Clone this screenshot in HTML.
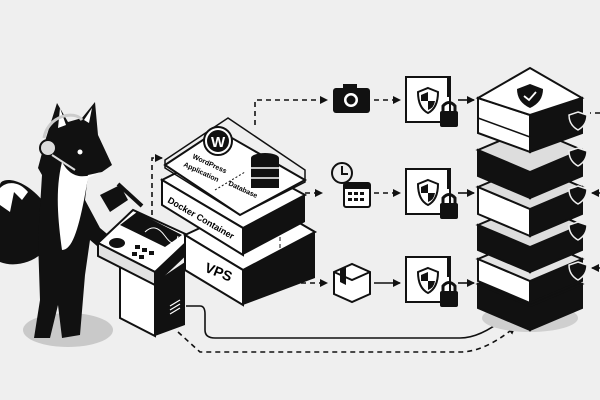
<!DOCTYPE html>
<html><head><meta charset="utf-8"><style>
html,body{margin:0;padding:0;background:#efefef;}
svg{display:block}
text{font-family:"Liberation Sans",sans-serif;font-weight:bold;}
</style></head><body>
<svg width="600" height="400" viewBox="0 0 600 400" xmlns="http://www.w3.org/2000/svg">
<defs>
<marker id="ah" markerWidth="8" markerHeight="8" refX="7" refY="4" orient="auto" markerUnits="userSpaceOnUse"><path d="M0,0 L8,4 L0,8 Z" fill="#111"/></marker>
</defs>
<rect width="600" height="400" fill="#efefef"/>

<g fill="none" stroke="#111" stroke-width="1.6">
<path d="M255,125 V100 H327" stroke-dasharray="5,4" marker-end="url(#ah)"/>
<path d="M374,100 H400" stroke-dasharray="5,4" marker-end="url(#ah)"/>
<path d="M458,100 H474" marker-end="url(#ah)"/>
<path d="M152,215 V158 H162" stroke-dasharray="5,4" marker-end="url(#ah)"/>
<path d="M305,193 H322" stroke-dasharray="5,4" marker-end="url(#ah)"/>
<path d="M374,193 H400" stroke-dasharray="5,4" marker-end="url(#ah)"/>
<path d="M458,193 H474" marker-end="url(#ah)"/>
<path d="M280,250 V283 H327" stroke-dasharray="5,4" marker-end="url(#ah)"/>
<path d="M374,283 H400" marker-end="url(#ah)"/>
<path d="M458,283 H474" marker-end="url(#ah)"/>
<path d="M186,306 H200 Q205,306 205,314 V330 Q205,338 215,338 H460 Q480,338 505,318" marker-end="url(#ah)"/>
<path d="M178,332 L200,352 H460 Q485,352 515,327" stroke-dasharray="5,4" marker-end="url(#ah)"/>
<path d="M600,113 H590" stroke-dasharray="5,4"/>
<path d="M600,193 H592" stroke-dasharray="4,3" marker-end="url(#ah)"/>
<path d="M600,268 H592" stroke-dasharray="4,3" marker-end="url(#ah)"/>
</g>

<ellipse cx="68" cy="330" rx="45" ry="17" fill="#c9c9c9"/>
<path d="M42,200 C20,175 0,178 0,185 V262 C15,268 35,262 45,250 Z" fill="#111"/>
<path d="M0,188 C8,180 20,182 28,192 L22,200 L14,192 L10,212 L0,205 Z" fill="#fff"/>
<path d="M57,103 L68,122 L82,118 L95,102 L98,135 L112,165 L102,172 L88,175 L85,200 L100,228 L112,238 L118,250 L104,252 L90,240 L85,275 L80,335 L62,338 L58,305 L50,338 L34,338 L40,300 L38,240 L42,175 L38,168 L46,138 Z" fill="#111"/>
<path d="M62,162 C72,180 85,178 100,172 L88,178 L84,200 C78,230 72,250 62,250 C58,220 55,190 62,162 Z" fill="#fff"/>
<path d="M60,108 L66,125 L58,128 Z M92,108 L89,123 L84,120 Z" fill="#fff"/>
<path d="M100,195 L120,185 L128,200 L110,212 Z" fill="#111"/>
<line x1="118" y1="184" x2="142" y2="206" stroke="#111" stroke-width="4"/>
<circle cx="48" cy="148" r="8" fill="#ddd" stroke="#111" stroke-width="2"/>
<path d="M44,138 C48,115 75,110 82,120" fill="none" stroke="#ccc" stroke-width="3"/>
<line x1="52" y1="155" x2="75" y2="170" stroke="#ddd" stroke-width="2"/>
<circle cx="80" cy="152" r="2.5" fill="#fff"/>

<polygon points="120,262 155,282 155,336 120,318" fill="#fff" stroke="#111" stroke-width="2"/>
<polygon points="155,282 185,262 185,325 155,336" fill="#111"/>
<polygon points="98,243 133,210 192,237 155,272" fill="#fff" stroke="#111" stroke-width="2"/>
<polygon points="98,243 155,272 155,285 98,256" fill="#e2e2e2" stroke="#111" stroke-width="2"/>
<polygon points="155,272 192,237 192,250 155,285" fill="#111"/>
<polygon points="120,225 137,212 182,235 165,247" fill="#111"/>
<path d="M145,232 Q155,222 165,236 T178,236" stroke="#fff" fill="none" stroke-width="1"/>
<g fill="#111"><rect x="135" y="245" width="5" height="4"/><rect x="142" y="248" width="5" height="4"/><rect x="149" y="251" width="5" height="4"/><rect x="132" y="252" width="5" height="4"/><rect x="139" y="255" width="5" height="4"/></g>
<ellipse cx="117" cy="243" rx="8" ry="5" fill="#111"/>
<g stroke="#fff" stroke-width="1.2"><line x1="170" y1="306" x2="180" y2="300"/><line x1="170" y1="310" x2="180" y2="304"/><line x1="170" y1="314" x2="180" y2="308"/></g>

<polygon points="185,235 260,200 315,232 243,270" fill="#fff" stroke="#111" stroke-width="2"/>
<polygon points="185,235 243,270 243,305 185,270" fill="#fff" stroke="#111" stroke-width="2"/>
<polygon points="243,270 315,232 315,278 243,305" fill="#111"/>
<text x="205" y="275" font-size="14" transform="rotate(22 214 270)">VPS</text>
<polygon points="162,180 222,150 305,195 243,228" fill="#fff" stroke="#111" stroke-width="2"/>
<polygon points="162,180 243,228 243,255 162,205" fill="#fff" stroke="#111" stroke-width="2"/>
<polygon points="243,228 305,195 305,222 243,255" fill="#111"/>
<text x="167" y="202" font-size="9" transform="rotate(30 167 202)">Docker Container</text>
<polygon points="228,118 305,170 305,182 240,215 165,168 165,160" fill="none" stroke="#111" stroke-width="1.5"/>
<polygon points="165,165 218,130 305,180 240,215" fill="#fff" stroke="#111" stroke-width="2"/>
<circle cx="218" cy="141" r="14" fill="#fff" stroke="#111" stroke-width="2"/>
<circle cx="218" cy="141" r="11" fill="#111"/>
<text x="211" y="147" font-size="15" fill="#fff" font-family="Liberation Serif">W</text>
<g fill="#111"><ellipse cx="265" cy="158" rx="14" ry="5"/><rect x="251" y="158" width="28" height="30"/></g>
<g stroke="#fff" stroke-width="1.5"><line x1="251" y1="168" x2="279" y2="168"/><line x1="251" y1="178" x2="279" y2="178"/></g>
<text x="192" y="158" font-size="7" transform="rotate(25 192 158)">WordPress</text>
<text x="183" y="166" font-size="7" transform="rotate(25 183 166)">Application</text>
<text x="228" y="185" font-size="7" transform="rotate(25 228 185)">Database</text>
<line x1="215" y1="190" x2="245" y2="172" stroke="#111" stroke-dasharray="2,2"/>
<path d="M280,230 V255" stroke="#111" stroke-dasharray="4,3"/>

<g fill="#111">
<rect x="333" y="88" width="37" height="25" rx="3"/><rect x="343" y="84" width="14" height="6"/>
</g>
<circle cx="351" cy="100" r="7" fill="#fff"/><circle cx="351" cy="100" r="4.5" fill="#111"/>
<circle cx="342" cy="173" r="10" fill="#efefef" stroke="#111" stroke-width="2"/>
<path d="M342,166 V174 H348" fill="none" stroke="#111" stroke-width="2"/>
<rect x="344" y="183" width="26" height="24" rx="2" fill="#fff" stroke="#111" stroke-width="2"/>
<rect x="344" y="183" width="26" height="6" fill="#111"/>
<g fill="#111"><rect x="348" y="192" width="4" height="3"/><rect x="354" y="192" width="4" height="3"/><rect x="360" y="192" width="4" height="3"/><rect x="348" y="198" width="4" height="3"/><rect x="354" y="198" width="4" height="3"/><rect x="360" y="198" width="4" height="3"/></g>
<polygon points="334,272 352,264 370,272 370,294 352,302 334,294" fill="#fff" stroke="#111" stroke-width="2"/>
<polyline points="334,272 352,280 370,272 M352,280 V302" fill="none" stroke="#111" stroke-width="2"/>
<polygon points="340,269 346,266 346,285 340,282" fill="#111"/>

<g id="sb">
<rect x="406" y="77" width="44" height="45" fill="#fff" stroke="#111" stroke-width="2"/>
<rect x="447" y="77" width="4" height="20" fill="#111"/>
<path d="M428,88 L438,92 Q438,108 428,113 Q418,108 418,92 Z" fill="#fff" stroke="#111" stroke-width="2"/>
<path d="M428,92 L428,101 L435,101 Q434,108 428,110 Z M421,95 L428,92 L428,101 L421,101 Z" fill="#111"/>
<path d="M443,112 V106 Q449,99 455,106 V112" fill="none" stroke="#111" stroke-width="3"/>
<rect x="440" y="111" width="18" height="16" rx="2" fill="#111"/>
</g>
<use href="#sb" y="92"/>
<use href="#sb" y="180"/>

<ellipse cx="530" cy="318" rx="48" ry="14" fill="#cfcfcf"/>
<g stroke="#111" stroke-width="2">
<polygon points="478,284 530,306 530,330 478,308" fill="#111"/><polygon points="530,306 582,284 582,308 530,330" fill="#111"/><polygon points="478,284 530,262 582,284 530,306" fill="#111"/>
<polygon points="478,259 530,281 530,303 478,281" fill="#fff"/><polygon points="530,281 582,259 582,281 530,303" fill="#111"/><polygon points="478,259 530,237 582,259 530,281" fill="#e4e4e4"/>
<polygon points="478,225 530,247 530,272 478,250" fill="#111"/><polygon points="530,247 582,225 582,250 530,272" fill="#111"/><polygon points="478,225 530,203 582,225 530,247" fill="#ddd"/>
<polygon points="478,187 530,209 530,236 478,214" fill="#fff"/><polygon points="530,209 582,187 582,214 530,236" fill="#111"/><polygon points="478,187 530,165 582,187 530,209" fill="#ddd"/>
<polygon points="478,150 530,172 530,198 478,176" fill="#111"/><polygon points="530,172 582,150 582,176 530,198" fill="#111"/><polygon points="478,150 530,128 582,150 530,172" fill="#ddd"/>
<polygon points="478,98 530,115 530,152 478,133" fill="#fff"/><polygon points="530,115 582,98 582,133 530,152" fill="#111"/><polygon points="478,98 530,68 582,98 530,115" fill="#fff"/>
</g>
<line x1="478" y1="118" x2="530" y2="137" stroke="#111" stroke-width="1.5"/>
<path d="M530,84 L543,89 Q543,102 530,108 Q517,102 517,89 Z" fill="#111"/>
<path d="M524,96 L529,100 L536,92" stroke="#fff" fill="none" stroke-width="1.8"/>
<g fill="#111" stroke="#efefef" stroke-width="1.5">
<path d="M578,112 L587,115 Q587,125 578,130 Q569,125 569,115 Z"/>
<path d="M578,148 L587,151 Q587,161 578,166 Q569,161 569,151 Z"/>
<path d="M578,186 L587,189 Q587,199 578,204 Q569,199 569,189 Z"/>
<path d="M578,222 L587,225 Q587,235 578,240 Q569,235 569,225 Z"/>
<path d="M578,262 L587,265 Q587,275 578,280 Q569,275 569,265 Z"/>
</g>
</svg>
</body></html>
